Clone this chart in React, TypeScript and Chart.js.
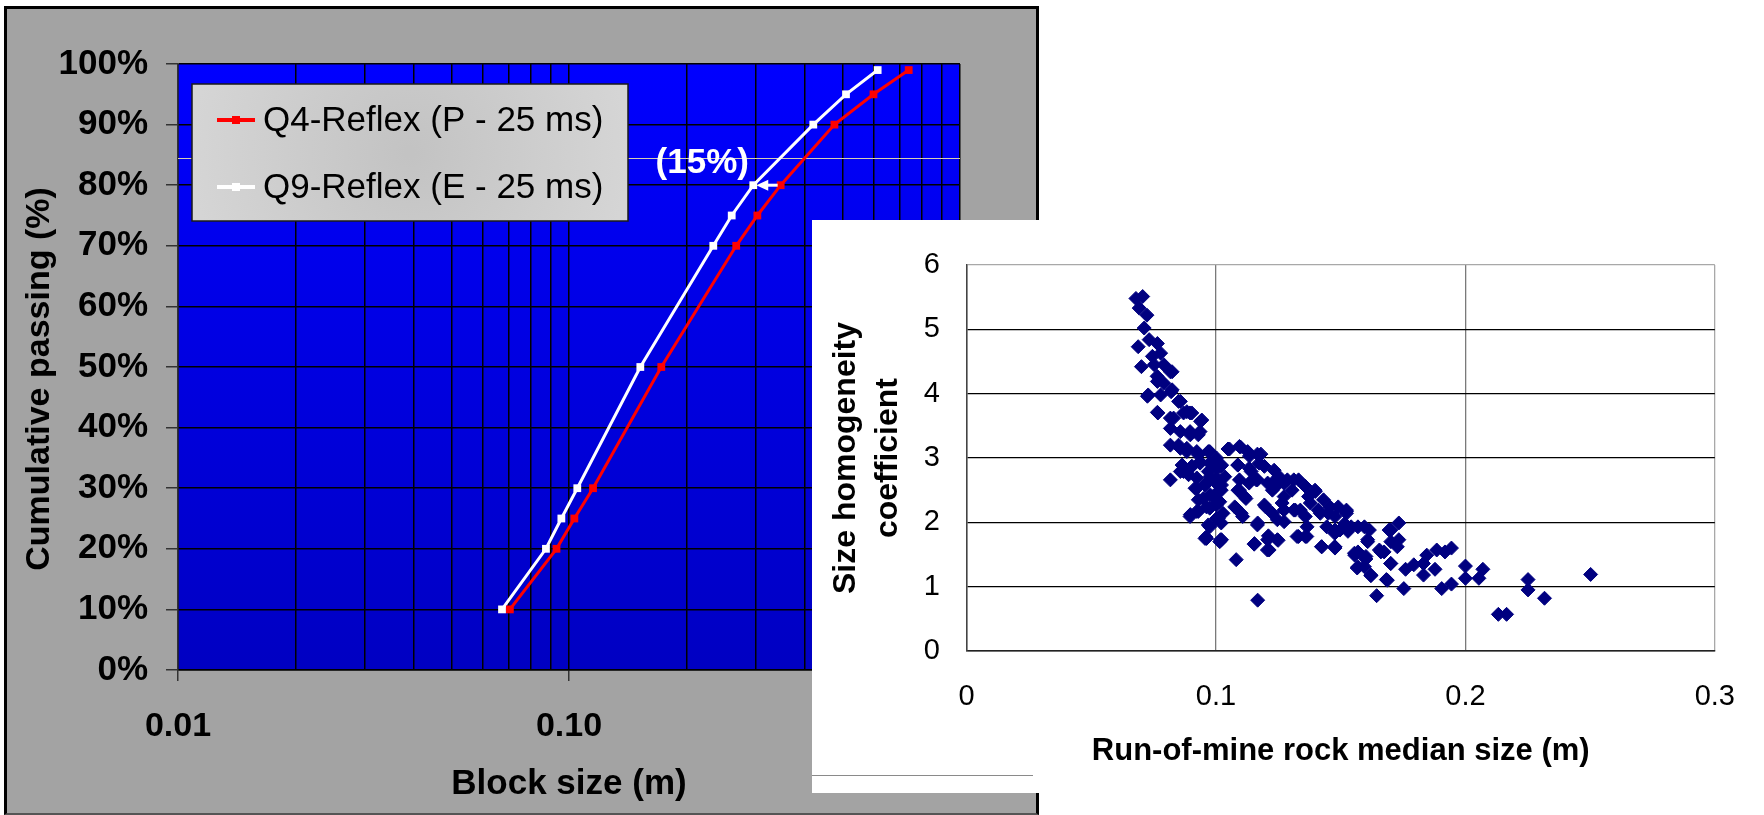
import React, { useEffect, useRef } from 'react';
import { Chart, registerables } from 'chart.js';

Chart.register(...registerables);

// ---------------- Left chart data: cumulative passing curves ----------------
const PASSING_PCT = [10, 20, 25, 30, 50, 70, 75, 80, 90, 95, 99];
const Q4_BLOCK_SIZE = [0.0706, 0.0929, 0.1032, 0.1152, 0.1722, 0.2677, 0.3032, 0.3478, 0.4773, 0.6008, 0.7393];
const Q9_BLOCK_SIZE = [0.0674, 0.0873, 0.0956, 0.105, 0.1522, 0.2339, 0.2607, 0.296, 0.4215, 0.511, 0.6158];
const SERIES_NAMES = ['Q4-Reflex (P - 25 ms)', 'Q9-Reflex (E - 25 ms)'];
const SERIES_COLORS = ['#ff0000', '#ffffff'];
const LOG_GRID_VALUES = [
  0.01, 0.02, 0.03, 0.04, 0.05, 0.06, 0.07, 0.08, 0.09,
  0.1, 0.2, 0.3, 0.4, 0.5, 0.6, 0.7, 0.8, 0.9, 1,
];
const X_TICK_VALUES = [0.01, 0.1, 1];
const X_TICK_LABELS = ['0.01', '0.10', '1.00'];
const LEFT_X_TITLE = 'Block size (m)';
const LEFT_Y_TITLE = 'Cumulative passing (%)';
const ARROW_LEVEL = 80;
const REDUCTION_TEXT = '(15%)';
const REF_LINE_LEVEL = 84.5;

// ---------------- Right chart data: homogeneity vs median size ----------------
const ROM_MEDIAN_SIZE = [
  0.0679, 0.0706, 0.0692, 0.0723, 0.0712, 0.0688, 0.0732, 0.0765, 0.0778, 0.0745,
  0.0701, 0.0752, 0.0791, 0.0824, 0.0765, 0.0728, 0.0778, 0.0824, 0.0765, 0.0857,
  0.0883, 0.0817, 0.0903, 0.0943, 0.0817, 0.0857, 0.0897, 0.0936, 0.0817, 0.0857,
  0.0883, 0.0929, 0.0969, 0.1002, 0.0864, 0.0903, 0.0936, 0.0817, 0.0857, 0.089,
  0.0923, 0.0969, 0.1002, 0.1022, 0.0916, 0.0956, 0.0995, 0.0929, 0.0976, 0.1009,
  0.0897, 0.0923, 0.0962, 0.1002, 0.0969, 0.1002, 0.0956, 0.1015,
  0.1048, 0.1098, 0.1134, 0.118, 0.1088, 0.1015, 0.1022, 0.1015, 0.1009, 0.1022,
  0.1081, 0.1167, 0.1094, 0.1088, 0.1114, 0.1075, 0.1101, 0.1141, 0.1161, 0.1194,
  0.1233, 0.1253, 0.1207, 0.124, 0.1286, 0.1312, 0.1273, 0.1194, 0.1226, 0.1167,
  0.1273, 0.1312, 0.1246, 0.1273, 0.1358, 0.1398, 0.1431, 0.1378, 0.1338, 0.1365,
  0.1325, 0.1358, 0.1418, 0.1457, 0.1477, 0.1444, 0.1497, 0.1523, 0.1154, 0.1207,
  0.1246, 0.1213, 0.1424, 0.1477, 0.0976, 0.0962,
  0.2502, 0.2317, 0.2251, 0.2251, 0.2132, 0.2165, 0.2, 0.2, 0.207, 0.2054,
  0.1944, 0.1918, 0.1885, 0.1845, 0.1832, 0.1878, 0.1832, 0.1944, 0.1905, 0.176,
  0.1793, 0.1753, 0.1644, 0.1683, 0.1621, 0.1566, 0.1601, 0.1556, 0.1701, 0.1674,
  0.1655, 0.1727, 0.1733, 0.1701, 0.1733, 0.1701, 0.1608, 0.1615, 0.1569, 0.1529,
  0.1477, 0.1477, 0.1516, 0.1523, 0.149, 0.1569, 0.1595,
  0.1021, 0.1035, 0.1021, 0.1028, 0.1021, 0.1018, 0.1054, 0.1094, 0.1127, 0.1166,
  0.1087, 0.1133, 0.1173, 0.1133, 0.1166, 0.1094, 0.112, 0.1081, 0.1107, 0.1166,
  0.1153, 0.1206, 0.121, 0.1249, 0.1199, 0.1239, 0.1226, 0.1272, 0.1305, 0.1331,
  0.1265, 0.1318, 0.1331, 0.1364, 0.1371, 0.1397, 0.1423, 0.1358, 0.141, 0.145,
  0.1476, 0.1476, 0.1523, 0.1542, 0.1555, 0.1569, 0.1595, 0.1608, 0.1601, 0.1621,
  0.1687, 0.1694, 0.1661, 0.17,
  0.0923, 0.0962, 0.1002, 0.0949, 0.0989, 0.0896, 0.0929, 0.0975, 0.1002, 0.0975,
  0.096, 0.087, 0.0903, 0.0936, 0.0975, 0.0923, 0.0975, 0.0883, 0.085, 0.0896,
  0.0929, 0.083, 0.087, 0.0896, 0.0938, 0.085, 0.0767, 0.082, 0.0725, 0.0817,
  0.0764, 0.0791,
];
const HOMOGENEITY_COEF = [
  5.48, 5.51, 5.33, 5.22, 5.02, 4.73, 4.84, 4.78, 4.63, 4.58,
  4.42, 4.45, 4.45, 4.34, 4.19, 3.98, 3.98, 4.06, 3.71, 3.88,
  3.72, 3.62, 3.7, 3.59, 3.46, 3.41, 3.36, 3.41, 3.2, 3.15,
  3.1, 3.05, 3.1, 3.0, 2.89, 2.87, 2.94, 2.66, 2.79, 2.74,
  2.69, 2.79, 2.84, 2.89, 2.53, 2.58, 2.63, 2.35, 2.43, 2.48,
  2.12, 2.17, 2.24, 2.27, 1.96, 2.06, 1.75, 1.7,
  3.14, 3.17, 3.03, 3.06, 2.89, 2.87, 2.58, 2.32, 2.06, 1.73,
  1.42, 0.79, 2.66, 2.5, 2.4, 2.24, 2.14, 2.79, 2.66, 2.87,
  2.81, 2.71, 2.61, 2.56, 2.66, 2.66, 2.4, 2.27, 2.14, 1.99,
  2.19, 2.19, 2.04, 2.01, 2.56, 2.48, 2.35, 2.3, 2.19, 1.93,
  1.78, 1.78, 2.14, 2.24, 2.09, 1.93, 1.88, 2.19, 1.67, 1.73,
  1.73, 1.57, 1.62, 1.6, 2.71, 1.75,
  1.19, 0.82, 1.11, 0.95, 0.57, 0.57, 1.32, 1.13, 1.27, 1.13,
  1.6, 1.54, 1.57, 1.49, 1.36, 1.27, 1.18, 1.04, 0.97, 1.27,
  1.34, 0.97, 0.86, 1.11, 1.17, 1.29, 1.43, 1.49, 1.36, 1.54,
  1.57, 1.62, 1.73, 1.7, 1.99, 1.88, 1.7, 1.88, 1.93, 1.86,
  1.62, 1.88, 1.98, 2.17, 2.24, 1.54, 1.31,
  2.88, 2.71, 2.5, 2.14, 1.99, 1.73, 3.14, 3.18, 3.1, 3.06,
  2.89, 2.84, 2.92, 2.61, 2.66, 2.5, 2.37, 2.22, 2.09, 1.96,
  1.66, 1.57, 1.79, 1.72, 2.24, 2.66, 2.5, 2.61, 2.5, 2.66,
  2.3, 2.19, 1.78, 1.78, 2.4, 2.5, 1.62, 2.09, 2.19, 2.14,
  1.83, 1.62, 2.14, 1.93, 1.52, 1.31, 1.93, 1.73, 1.47, 1.18,
  1.1, 1.88, 1.54, 1.36,
  2.53, 2.61, 2.69, 2.37, 2.4, 2.09, 2.17, 2.22, 2.3, 1.93,
  1.77, 2.79, 2.87, 2.92, 2.92, 3.1, 3.1, 3.15, 3.2, 3.41,
  3.36, 3.62, 3.7, 3.7, 3.57, 3.88, 3.7, 4.03, 3.96, 4.34,
  4.27, 4.16,
];
const X2_TICK_LABELS = ['0', '0.1', '0.2', '0.3'];
const RIGHT_X_TITLE = 'Run-of-mine rock median size (m)';
const RIGHT_Y_TITLE = ['Size homogeneity', 'coefficient'];

// ---------------- layout constants (pixels) ----------------
const LEFT_W = 1040;
const LEFT_H = 815;
const RIGHT_LEFT = 812;
const RIGHT_TOP = 220;
const RIGHT_W = 952;
const RIGHT_H = 573;
const LEGEND_BOX = { x: 192, y: 84, w: 436, h: 137 };

const SANS = '"Liberation Sans", Arial, Helvetica, sans-serif';

const plotBgPlugin = {
  id: 'plotBg',
  beforeDraw(chart: any) {
    const { ctx, chartArea: a } = chart;
    const g = ctx.createLinearGradient(0, a.top, 0, a.bottom);
    g.addColorStop(0, '#0000ff');
    g.addColorStop(1, '#0000c2');
    ctx.save();
    ctx.fillStyle = g;
    ctx.fillRect(a.left, a.top, a.right - a.left, a.bottom - a.top);
    ctx.restore();
  },
};

const leftAnnotations = {
  id: 'leftAnnotations',
  beforeDatasetsDraw(chart: any) {
    const { ctx, chartArea: a, scales } = chart;
    const yRef = Math.round(scales.y.getPixelForValue(REF_LINE_LEVEL)) + 0.5;
    ctx.save();
    ctx.strokeStyle = '#d4cfb2';
    ctx.lineWidth = 1;
    ctx.beginPath();
    ctx.moveTo(a.left, yRef);
    ctx.lineTo(a.right, yRef);
    ctx.stroke();
    ctx.restore();
  },
  afterDatasetsDraw(chart: any) {
    const { ctx, scales } = chart;
    const k = PASSING_PCT.indexOf(ARROW_LEVEL);
    const xFrom = scales.x.getPixelForValue(Q4_BLOCK_SIZE[k]) - 3;
    const xWhite = scales.x.getPixelForValue(Q9_BLOCK_SIZE[k]);
    const xTip = xWhite + 3;
    const yA = scales.y.getPixelForValue(ARROW_LEVEL);
    ctx.save();
    ctx.strokeStyle = '#ffffff';
    ctx.fillStyle = '#ffffff';
    ctx.lineWidth = 3;
    ctx.beginPath();
    ctx.moveTo(xFrom, yA);
    ctx.lineTo(xTip + 10, yA);
    ctx.stroke();
    ctx.beginPath();
    ctx.moveTo(xTip, yA);
    ctx.lineTo(xTip + 12, yA - 5.5);
    ctx.lineTo(xTip + 12, yA + 5.5);
    ctx.closePath();
    ctx.fill();
    ctx.font = 'bold 35px ' + SANS;
    ctx.textAlign = 'center';
    ctx.textBaseline = 'alphabetic';
    ctx.fillText(REDUCTION_TEXT, xWhite - 51, yA - 12);
    ctx.restore();
  },
};

const legendBoxPlugin = {
  id: 'legendBox',
  afterDraw(chart: any) {
    const { ctx } = chart;
    const { x, y, w, h } = LEGEND_BOX;
    ctx.save();
    const g = ctx.createRadialGradient(x + w / 2, y + h / 2, 5, x + w / 2, y + h / 2, w / 2);
    g.addColorStop(0, '#c3c3c3');
    g.addColorStop(1, '#d5d5d5');
    ctx.fillStyle = g;
    ctx.fillRect(x, y, w, h);
    ctx.lineWidth = 1.5;
    ctx.strokeStyle = '#1a1a1a';
    ctx.strokeRect(x, y, w, h);
    chart.data.datasets.forEach((ds: any, i: number) => {
      const cy = y + 36 + i * 67;
      ctx.strokeStyle = ds.borderColor;
      ctx.lineWidth = 4;
      ctx.beginPath();
      ctx.moveTo(x + 25, cy);
      ctx.lineTo(x + 63, cy);
      ctx.stroke();
      ctx.fillStyle = ds.borderColor;
      ctx.fillRect(x + 40, cy - 4, 8, 8);
      ctx.fillStyle = '#000000';
      ctx.font = '35px ' + SANS;
      ctx.textAlign = 'left';
      ctx.textBaseline = 'alphabetic';
      ctx.fillText(ds.label, x + 71, cy + 11);
    });
    ctx.restore();
  },
};

const leftYTitlePlugin = {
  id: 'leftYTitle',
  afterDraw(chart: any) {
    const { ctx, chartArea: a } = chart;
    ctx.save();
    ctx.translate(49, (a.top + a.bottom) / 2 + 12);
    ctx.rotate(-Math.PI / 2);
    ctx.font = 'bold 34px ' + SANS;
    ctx.fillStyle = '#000000';
    ctx.textAlign = 'center';
    ctx.textBaseline = 'alphabetic';
    ctx.fillText(LEFT_Y_TITLE, 0, 0);
    ctx.restore();
  },
};

const rightFramePlugin = {
  id: 'rightFrame',
  afterDraw(chart: any) {
    const { ctx } = chart;
    ctx.save();
    ctx.strokeStyle = '#8a8a8a';
    ctx.lineWidth = 1;
    ctx.beginPath();
    ctx.moveTo(0, 555.5);
    ctx.lineTo(221, 555.5);
    ctx.stroke();
    ctx.restore();
  },
};

function isMajor(v: number) {
  return X_TICK_VALUES.some((t) => Math.abs(t - v) < 1e-9);
}

export default function App() {
  const leftRef = useRef<HTMLCanvasElement | null>(null);
  const rightRef = useRef<HTMLCanvasElement | null>(null);

  useEffect(() => {
    if (!leftRef.current || !rightRef.current) return;

    const left = new Chart(leftRef.current, {
      type: 'line',
      data: {
        datasets: [Q4_BLOCK_SIZE, Q9_BLOCK_SIZE].map((sizes, i) => ({
          label: SERIES_NAMES[i],
          data: sizes.map((s, j) => ({ x: s, y: PASSING_PCT[j] })),
          borderColor: SERIES_COLORS[i],
          backgroundColor: SERIES_COLORS[i],
          borderWidth: 3,
          pointStyle: 'rect',
          pointRadius: 5.5,
          pointBorderWidth: 0,
          pointBackgroundColor: SERIES_COLORS[i],
          tension: 0,
          fill: false,
        })),
      },
      options: {
        responsive: false,
        animation: false,
        layout: { padding: { left: 0, top: 64, right: 80, bottom: 0 } },
        plugins: {
          legend: { display: false },
          tooltip: { enabled: false },
        },
        scales: {
          x: {
            type: 'logarithmic',
            min: 0.01,
            max: 1,
            afterBuildTicks: (axis: any) => {
              axis.ticks = LOG_GRID_VALUES.map((v) => ({ value: v, major: isMajor(v) }));
            },
            afterFit: (axis: any) => {
              axis.height = 145;
            },
            ticks: {
              autoSkip: false,
              maxRotation: 0,
              minRotation: 0,
              padding: 25,
              color: '#000000',
              font: { family: SANS, weight: 'bold', size: 34 },
              callback: (v: any) => {
                const i = X_TICK_VALUES.findIndex((t) => Math.abs(t - Number(v)) < 1e-9);
                return i >= 0 ? X_TICK_LABELS[i] : '';
              },
            },
            grid: {
              color: '#000000',
              lineWidth: 1.5,
              drawTicks: true,
              tickLength: 11,
              tickWidth: 1.5,
              tickColor: (c: any) => (c.tick && isMajor(c.tick.value) ? '#333333' : 'rgba(0,0,0,0)'),
            },
            border: { display: true, color: '#000000', width: 1.5 },
            title: {
              display: true,
              text: LEFT_X_TITLE,
              color: '#000000',
              font: { family: SANS, weight: 'bold', size: 35 },
              padding: { top: 0, bottom: 10 },
            },
          },
          y: {
            min: 0,
            max: 100,
            afterFit: (axis: any) => {
              axis.width = 178;
            },
            ticks: {
              stepSize: 10,
              padding: 18,
              color: '#000000',
              font: { family: SANS, weight: 'bold', size: 35 },
              callback: (v: any) => v + '%',
            },
            grid: {
              color: '#000000',
              lineWidth: 1.5,
              tickLength: 12,
              tickWidth: 1.5,
              tickColor: '#333333',
            },
            border: { display: true, color: '#333333', width: 1.5 },
          },
        },
      },
      plugins: [plotBgPlugin, leftAnnotations, legendBoxPlugin, leftYTitlePlugin],
    } as any);

    const right = new Chart(rightRef.current, {
      type: 'scatter',
      data: {
        datasets: [
          {
            label: 'Size homogeneity coefficient',
            data: ROM_MEDIAN_SIZE.map((s, i) => ({ x: s, y: HOMOGENEITY_COEF[i] })),
            pointStyle: 'rectRot',
            pointRadius: 7,
            pointBackgroundColor: '#000080',
            pointBorderColor: '#000080',
            pointBorderWidth: 1,
          },
        ],
      },
      options: {
        responsive: false,
        animation: false,
        layout: { padding: { left: 0, top: 45, right: 39, bottom: 0 } },
        plugins: {
          legend: { display: false },
          tooltip: { enabled: false },
        },
        scales: {
          x: {
            type: 'linear',
            min: 0,
            max: 0.3,
            afterFit: (axis: any) => {
              axis.height = 142;
            },
            ticks: {
              stepSize: 0.1,
              padding: 29,
              color: '#000000',
              font: { family: SANS, size: 29 },
              callback: (_v: any, i: number) => X2_TICK_LABELS[i],
            },
            grid: {
              drawTicks: false,
              lineWidth: 1.3,
              color: (c: any) => (c.index === X2_TICK_LABELS.length - 1 ? '#a8a8a8' : '#7a7a7a'),
            },
            border: { display: true, color: '#222222', width: 1.5 },
            title: {
              display: true,
              text: RIGHT_X_TITLE,
              color: '#000000',
              font: { family: SANS, weight: 'bold', size: 31 },
              padding: { top: 0, bottom: 23 },
            },
          },
          y: {
            min: 0,
            max: 6,
            afterFit: (axis: any) => {
              axis.width = 154.6;
            },
            ticks: {
              stepSize: 1,
              padding: 26.6,
              color: '#000000',
              font: { family: SANS, size: 29 },
            },
            grid: {
              drawTicks: false,
              lineWidth: 1.3,
              color: (c: any) => (c.tick && c.tick.value === 6 ? '#a8a8a8' : '#000000'),
            },
            border: { display: true, color: '#444444', width: 1.5 },
            title: {
              display: true,
              text: RIGHT_Y_TITLE,
              color: '#000000',
              font: { family: SANS, weight: 'bold', size: 32, lineHeight: 1.29 },
              padding: { top: 14, bottom: 0 },
            },
          },
        },
      },
      plugins: [rightFramePlugin],
    } as any);

    return () => {
      left.destroy();
      right.destroy();
    };
  }, []);

  return (
    <div
      style={{
        position: 'fixed',
        left: 0,
        top: 0,
        width: 1764,
        height: 815,
        overflow: 'hidden',
        background: '#ffffff',
      }}
    >
      <div
        style={{
          position: 'absolute',
          left: 4,
          top: 6,
          width: 1035,
          height: 809,
          boxSizing: 'border-box',
          borderTop: '3px solid #000',
          borderLeft: '3px solid #000',
          borderRight: '3px solid #000',
          borderBottom: '2px solid #555',
          background: '#a3a3a3',
        }}
      />
      <canvas
        ref={leftRef}
        width={LEFT_W}
        height={LEFT_H}
        style={{ position: 'absolute', left: 0, top: 0, width: LEFT_W, height: LEFT_H }}
      />
      <canvas
        ref={rightRef}
        width={RIGHT_W}
        height={RIGHT_H}
        style={{
          position: 'absolute',
          left: RIGHT_LEFT,
          top: RIGHT_TOP,
          width: RIGHT_W,
          height: RIGHT_H,
          background: '#ffffff',
        }}
      />
    </div>
  );
}
